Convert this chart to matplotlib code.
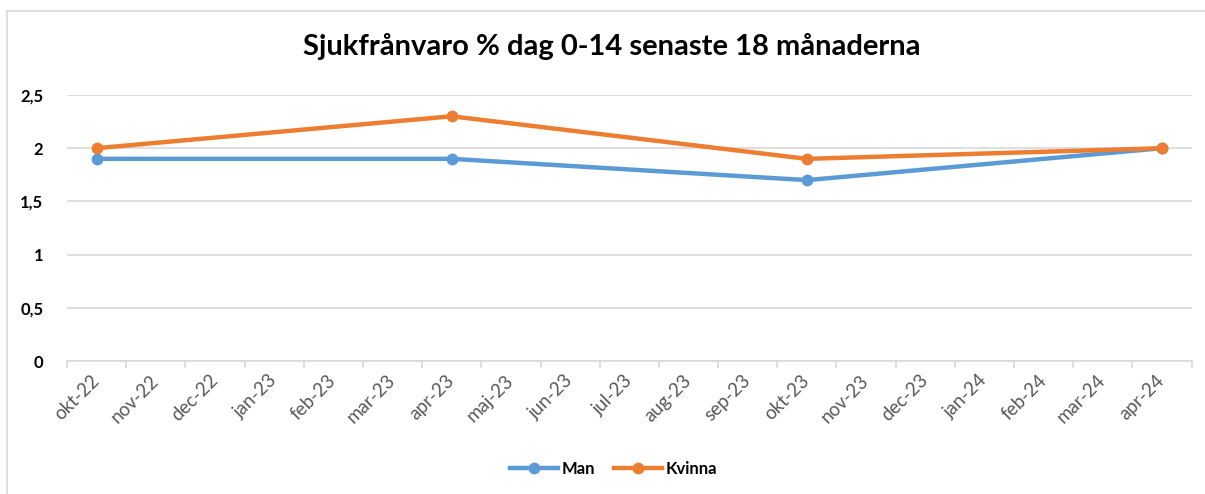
import numpy as np
import matplotlib
matplotlib.use("Agg")
import matplotlib.pyplot as plt
from matplotlib.lines import Line2D

# ==================================================
# DATA
# ==================================================
months = ["okt-22", "nov-22", "dec-22", "jan-23", "feb-23", "mar-23", "apr-23",
          "maj-23", "jun-23", "jul-23", "aug-23", "sep-23", "okt-23", "nov-23",
          "dec-23", "jan-24", "feb-24", "mar-24", "apr-24"]
measured = ["okt-22", "apr-23", "okt-23", "apr-24"]
man = [1.9, 1.9, 1.7, 2.0]
kvinna = [2.0, 2.3, 1.9, 2.0]

BLUE = "#5B9BD5"
ORANGE = "#ED7D31"

plt.rcParams["font.family"] = ["Lato", "DejaVu Sans"]

x_pos = [months.index(m) for m in measured]

fig = plt.figure(figsize=(12.05, 4.94), dpi=100)
ax = fig.add_axes([67 / 1205, 1 - 361 / 494, (1191.6 - 67) / 1205, (361 - 95) / 494])

# chart frame (Excel style)
fig.add_artist(plt.Line2D([7 / 1205, 7 / 1205], [0, 1 - 11 / 494],
                          transform=fig.transFigure, color="#D9D9D9", lw=1.2))
fig.add_artist(plt.Line2D([7 / 1205, 1], [1 - 11 / 494, 1 - 11 / 494],
                          transform=fig.transFigure, color="#D9D9D9", lw=1.2))

ax.plot(x_pos, man, color=BLUE, lw=3.2, marker="o", ms=7.5, zorder=3,
        solid_capstyle="round")
ax.plot(x_pos, kvinna, color=ORANGE, lw=3.2, marker="o", ms=7.5, zorder=4,
        solid_capstyle="round")

ax.set_xlim(-0.5, len(months) - 0.5)
ax.set_ylim(0, 2.5)
ax.set_yticks(np.arange(0, 2.51, 0.5))
ax.set_yticklabels(["0", "0,5", "1", "1,5", "2", "2,5"], fontweight="bold",
                   fontsize=12, color="#000000")
ax.tick_params(axis="y", length=0, pad=17)
ax.yaxis.grid(True, color="#D9D9D9", lw=1.2)
ax.set_axisbelow(True)

ax.set_xticks(range(len(months)))
ax.set_xticklabels(months, rotation=45, ha="right", va="center",
                   rotation_mode="anchor", fontsize=13.5, color="#595959")
ax.tick_params(axis="x", length=0, pad=12)
ax.set_xticks(np.arange(-0.5, len(months), 1), minor=True)
ax.tick_params(axis="x", which="minor", length=5, color="#D9D9D9", width=1.2)

for s in ["top", "right", "left"]:
    ax.spines[s].set_visible(False)
ax.spines["bottom"].set_color("#D9D9D9")
ax.spines["bottom"].set_linewidth(1.2)

fig.text(0.508, 1 - 47 / 494, "Sjukfrånvaro % dag 0-14 senaste 18 månaderna",
         ha="center", va="center", fontsize=21, fontweight="bold", color="#000000")

handles = [Line2D([], [], color=BLUE, lw=3.2, marker="o", ms=7.5),
           Line2D([], [], color=ORANGE, lw=3.2, marker="o", ms=7.5)]
leg = fig.legend(handles, ["Man", "Kvinna"], loc="center", ncol=2,
                 bbox_to_anchor=(0.509, 1 - 469 / 494), frameon=False,
                 prop={"weight": "bold", "size": 12}, handlelength=2.9,
                 columnspacing=1.1, handletextpad=0.2)

plt.savefig("out.png", dpi=100)
plt.close()
